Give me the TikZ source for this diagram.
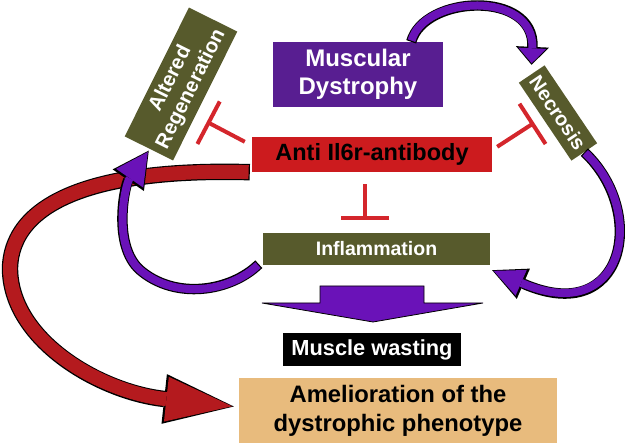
\documentclass[tikz,border=0pt]{standalone}
\usepackage{fontspec}
\setmainfont{Liberation Sans}
\usetikzlibrary{arrows.meta, positioning, calc}

\definecolor{mdpurple}{HTML}{581E91}
\definecolor{arrpurple}{HTML}{6A12B8}
\definecolor{antired}{HTML}{CC1B1E}
\definecolor{shaftred}{HTML}{B41A1E}
\definecolor{tbarred}{HTML}{D4262C}
\definecolor{boxolive}{HTML}{575A2C}
\definecolor{ameltan}{HTML}{E8BB7D}

\begin{document}
\begin{tikzpicture}[x=1pt, y=-1pt,
    box/.style={rectangle, inner sep=0pt, align=center, text=white},
    inhib/.style={draw=tbarred, line width=4pt, -{Bar[width=48pt]}},
    purparr/.style n args={4}{draw=arrpurple, line width=8pt, shorten <=1.2pt, shorten >=1.6pt,
        -{Triangle[length=#3, width=#4, line width=0pt]},
        preaction={draw=black, line width=10.4pt, shorten <=0pt, shorten >=0pt,
            -{Triangle[length=#1, width=#2, line width=0pt]}}},
    redarr/.style n args={4}{draw=shaftred, line width=14pt, shorten <=1.2pt, shorten >=1.8pt,
        -{Triangle[length=#3, width=#4, line width=0pt]},
        preaction={draw=black, line width=16.4pt, shorten <=0pt, shorten >=0pt,
            -{Triangle[length=#1, width=#2, line width=0pt]}}}
]
\useasboundingbox (0,0) rectangle (625,443);

% --- boxes ---
\node[box, fill=mdpurple, minimum width=170, minimum height=65,
      font=\bfseries\fontsize{24}{28}\selectfont] (md) at (358,74.5) {Muscular\\Dystrophy};
\node[box, fill=boxolive, rotate=63.5, minimum width=144, minimum height=54,
      font=\bfseries\fontsize{20.5}{23}\selectfont] (altreg) at (181,84) {Altered\\Regeneration};
\node[box, fill=boxolive, rotate=-56, minimum width=94, minimum height=31,
      font=\bfseries\fontsize{20}{22}\selectfont] (necro) at (558,113) {Necrosis};
\node[box, fill=boxolive, minimum width=227, minimum height=32,
      font=\bfseries\fontsize{19.5}{22}\selectfont] (infl) at (376.5,249) {Inflammation};
\node[box, fill=black, minimum width=178, minimum height=33,
      font=\bfseries\fontsize{21.8}{25}\selectfont] (wasting) at (372,349.5) {Muscle wasting};
\node[box, fill=ameltan, text=black, minimum width=318, minimum height=65,
      font=\bfseries\fontsize{23.8}{29}\selectfont] (amel) at (398,410.5) {Amelioration of the\\dystrophic phenotype};
\node[box, fill=antired, text=black, minimum width=240, minimum height=35,
      font=\bfseries\fontsize{23.5}{27}\selectfont] (anti) at (372,154.5) {Anti Il6r-antibody};

% --- antibody to amelioration ---
\draw[redarr={70pt}{50pt}{66pt}{45pt}] ($(anti.south west)+(-2,0)$)
    .. controls (100,168) and (12,200) .. (10,268)
    .. controls (10,340) and (100,392) .. ($(amel.west)+(-5,-4)$);

% --- cycle arrows ---
\draw[purparr={18pt}{33pt}{15pt}{28pt}] ($(md.north east)+(-32,0)$)
    .. controls (424,-5) and (535,-10) .. ($(necro.west)+(0,-9)$);
\draw[purparr={34pt}{33pt}{30pt}{28pt}] (necro.east)
    .. controls (648,212) and (625,328) .. ($(infl.south east)+(2,5)$);
\draw[purparr={36pt}{38pt}{32pt}{33pt}] ($(infl.south west)+(-4,-1)$)
    .. controls (230,292) and (175,300) .. (140,270)
    .. controls (112,245) and (125,185) .. ($(altreg.west)+(0,2)$);

% --- down arrow to muscle wasting ---
\draw[fill=arrpurple, draw=black, line width=0.8pt] (320,286) -- (424,286) -- (424,303) -- (483,303)
    -- (373,322) -- (262,303) -- (320,303) -- cycle;

% --- inhibition ---
\draw[inhib] ($(anti.north west)+(-7,5)$) -- ++(-38,-20);
\draw[inhib] ($(anti.north east)+(5,10)$) -- ++(37,-24);
\draw[inhib] ($(anti.south)+(-7,12)$) -- ++(0,36);
\end{tikzpicture}
\end{document}
